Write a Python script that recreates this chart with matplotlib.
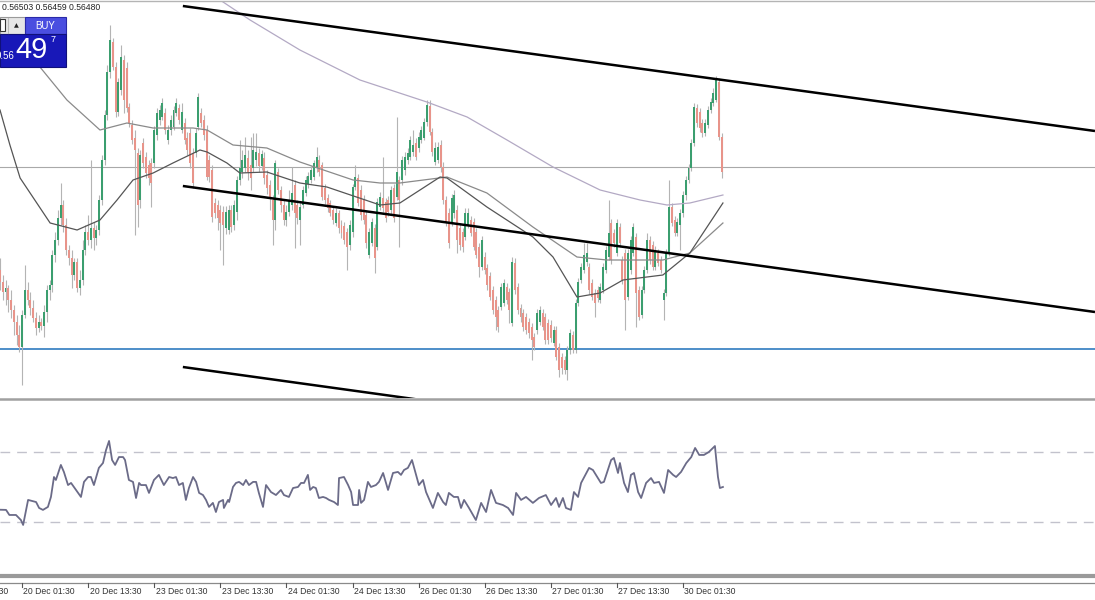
import numpy as np
import matplotlib
matplotlib.use("Agg")
import matplotlib.pyplot as plt
from matplotlib.patches import Rectangle
from matplotlib.lines import Line2D
from matplotlib.transforms import blended_transform_factory

plt.rcParams['font.family'] = ['Liberation Sans', 'DejaVu Sans']

W, H = 1095, 600
BAR_PX = 2.754          # pixel width of one M30 bar
PT = 1e-5               # price point

# ---- OHLC in price points (0.56276 -> 56276) ----
opens = [56300,56276,56256,56264,56240,56220,56196,56170,56146,56210,
         56260,56240,56224,56204,56184,56196,56188,56216,56260,56270,
         56330,56360,56404,56430,56390,56340,56324,56290,56316,56264,
         56280,56340,56376,56360,56384,56364,56380,56440,56520,56610,
         56696,56756,56706,56616,56660,56720,56704,56626,56590,56564,
         56534,56440,56554,56526,56510,56514,56514,56570,56600,56606,
         56614,56560,56580,56586,56614,56624,56580,56594,56564,56574,
         56534,56534,56586,56614,56600,56580,56520,56500,56434,56430,
         56420,56416,56384,56380,56420,56390,56416,56480,56496,56504,
         56524,56510,56504,56520,56534,56508,56524,56490,56470,56440,
         56400,56496,56460,56430,56400,56416,56430,56470,56430,56400,
         56430,56454,56472,56480,56486,56504,56520,56510,56464,56444,
         56434,56420,56394,56414,56390,56388,56376,56350,56376,56466,
         56484,56460,56440,56410,56330,56354,56384,56346,56426,56444,
         56436,56440,56420,56464,56446,56480,56480,56500,56520,56526,
         56536,56554,56544,56560,56564,56596,56628,56576,56516,56520,
         56550,56506,56440,56414,56396,56414,56420,56384,56376,56366,
         56390,56400,56396,56376,56346,56306,56326,56304,56288,56260,
         56240,56220,56226,56234,56266,56256,56194,56314,56266,56224,
         56214,56206,56196,56186,56166,56180,56196,56214,56206,56194,
         56190,56154,56180,56146,56126,56120,56100,56140,56170,56140,
         56234,56280,56300,56316,56306,56274,56254,56260,56240,56260,
         56300,56326,56394,56374,56334,56386,56320,56334,56246,56300,
         56334,56366,56260,56210,56260,56300,56360,56350,56306,56334,
         56320,56240,56254,56334,56426,56400,56374,56390,56414,56450,
         56480,56504,56554,56624,56616,56594,56574,56590,56620,56634,
         56640,56676,56566]
highs = [56324,56290,56280,56270,56260,56230,56210,56190,56220,56310,
         56276,56256,56240,56216,56210,56204,56230,56270,56280,56340,
         56376,56420,56474,56440,56404,56350,56340,56324,56324,56300,
         56360,56390,56410,56520,56396,56390,56450,56530,56620,56710,
         56790,56764,56716,56684,56750,56730,56716,56634,56600,56580,
         56544,56540,56564,56536,56520,56524,56588,56624,56630,56644,
         56624,56590,56610,56628,56644,56632,56634,56604,56576,56584,
         56544,56584,56654,56624,56610,56590,56530,56510,56444,56440,
         56430,56428,56428,56430,56430,56440,56488,56560,56540,56566,
         56540,56566,56574,56574,56544,56540,56536,56500,56480,56450,
         56520,56504,56468,56440,56430,56460,56506,56480,56440,56436,
         56468,56488,56496,56508,56520,56546,56530,56516,56472,56452,
         56440,56428,56424,56420,56400,56396,56384,56400,56472,56510,
         56492,56470,56450,56420,56384,56404,56392,56444,56456,56526,
         56444,56448,56468,56472,56606,56488,56528,56536,56544,56568,
         56580,56564,56576,56588,56604,56640,56640,56584,56556,56556,
         56560,56516,56448,56424,56452,56460,56430,56392,56384,56424,
         56424,56408,56404,56384,56354,56368,56336,56312,56296,56268,
         56248,56228,56274,56282,56274,56264,56326,56324,56274,56232,
         56222,56214,56204,56194,56174,56222,56228,56222,56214,56202,
         56200,56188,56188,56154,56134,56128,56148,56182,56178,56242,
         56284,56314,56354,56354,56314,56282,56262,56268,56274,56314,
         56348,56440,56402,56382,56402,56394,56328,56342,56342,56368,
         56394,56374,56268,56268,56308,56374,56368,56358,56348,56342,
         56328,56262,56342,56480,56434,56408,56404,56422,56458,56488,
         56512,56562,56634,56632,56624,56602,56602,56628,56644,56664,
         56688,56684,56574]
lows = [56260,56240,56230,56216,56204,56170,56150,56136,56070,56204,
        56230,56210,56196,56170,56176,56180,56166,56196,56240,56256,
        56316,56350,56390,56376,56330,56310,56264,56280,56256,56250,
        56270,56330,56350,56344,56340,56350,56370,56430,56510,56600,
        56684,56700,56606,56608,56650,56614,56616,56586,56552,56370,
        56386,56424,56504,56484,56470,56426,56504,56560,56590,56600,
        56572,56552,56570,56580,56608,56592,56574,56552,56530,56504,
        56464,56526,56580,56586,56560,56480,56476,56396,56404,56380,
        56340,56310,56372,56372,56376,56380,56400,56470,56484,56496,
        56480,56460,56496,56508,56496,56500,56472,56452,56420,56350,
        56380,56452,56416,56390,56388,56408,56420,56344,56392,56350,
        56424,56448,56464,56474,56480,56496,56488,56440,56432,56416,
        56408,56392,56388,56374,56364,56352,56300,56340,56366,56460,
        56428,56400,56392,56344,56324,56348,56294,56340,56420,56416,
        56396,56408,56412,56396,56440,56346,56470,56490,56512,56520,
        56528,56520,56536,56554,56560,56588,56570,56528,56510,56514,
        56496,56432,56388,56344,56388,56404,56334,56340,56336,56360,
        56384,56368,56340,56324,56286,56300,56292,56260,56240,56212,
        56180,56176,56220,56228,56232,56194,56188,56252,56212,56196,
        56178,56172,56164,56120,56140,56172,56190,56180,56152,56152,
        56156,56148,56120,56086,56092,56092,56080,56132,56134,56134,
        56228,56274,56294,56308,56252,56240,56206,56236,56234,56254,
        56294,56320,56312,56346,56328,56346,56272,56180,56240,56292,
        56328,56186,56200,56204,56254,56294,56312,56300,56300,56308,
        56294,56200,56248,56328,56388,56368,56368,56340,56406,56440,
        56474,56498,56548,56586,56576,56566,56568,56584,56614,56628,
        56636,56560,56484]
closes = [56276,56256,56264,56240,56220,56196,56170,56146,56210,56260,
          56240,56224,56204,56184,56196,56188,56216,56260,56270,56330,
          56360,56404,56430,56390,56340,56324,56290,56316,56264,56280,
          56340,56376,56360,56384,56364,56380,56440,56520,56610,56696,
          56760,56706,56616,56676,56726,56640,56624,56594,56560,56540,
          56430,56530,56514,56494,56484,56474,56580,56614,56620,56634,
          56580,56580,56600,56620,56634,56600,56616,56560,56540,56514,
          56474,56574,56646,56594,56570,56486,56486,56406,56414,56404,
          56394,56390,56416,56420,56386,56430,56480,56504,56520,56530,
          56496,56484,56540,56536,56508,56532,56484,56464,56444,56400,
          56514,56460,56430,56400,56416,56440,56454,56414,56404,56426,
          56460,56480,56488,56500,56514,56526,56496,56446,56440,56424,
          56414,56400,56414,56384,56374,56360,56346,56390,56466,56486,
          56434,56410,56400,56354,56376,56396,56324,56436,56446,56424,
          56404,56416,56460,56404,56496,56440,56520,56526,56534,56560,
          56550,56526,56566,56580,56596,56630,56576,56536,56544,56546,
          56506,56440,56396,56354,56444,56450,56360,56350,56346,56414,
          56414,56374,56346,56330,56306,56360,56300,56270,56246,56220,
          56206,56186,56266,56274,56240,56220,56316,56260,56220,56206,
          56186,56180,56174,56160,56146,56214,56220,56186,56160,56160,
          56164,56180,56126,56100,56104,56100,56140,56174,56140,56234,
          56276,56306,56330,56334,56260,56246,56234,56244,56266,56306,
          56340,56374,56320,56354,56394,56354,56280,56240,56334,56360,
          56386,56254,56206,56260,56300,56360,56320,56306,56340,56314,
          56300,56254,56334,56426,56394,56374,56396,56414,56450,56480,
          56504,56554,56626,56594,56584,56574,56594,56620,56636,56654,
          56680,56566,56496]

# ---- moving averages (bar position, price points) ----
ma_slow_bar = [76.3, 79.9, 90.8, 108.9, 130.7, 155.0, 169.6, 184.1, 200.8, 217.9, 232.4, 242.2, 250.5, 262.5]
ma_slow_val = [56852, 56840, 56800, 56740, 56680, 56636, 56606, 56560, 56506, 56460, 56440, 56430, 56434, 56450]
ma_mid_bar = [0, 14.5, 24.3, 36.3, 46.1, 55.6, 70.1, 75.2, 84.6, 96.9, 108.9, 128.2, 138.0, 145.2,
              162.3, 176.8, 193.5, 209.5, 220.4, 240.7, 250.5, 262.5]
ma_mid_val = [56800, 56706, 56640, 56580, 56594, 56584, 56584, 56580, 56550, 56544, 56516, 56480, 56474, 56474,
              56486, 56454, 56386, 56326, 56320, 56320, 56334, 56394]
ma_fast_bar = [0, 3.6, 7.3, 18.2, 28.0, 36.3, 42.5, 48.3, 55.6, 62.8, 72.6, 75.2, 82.4, 87.1, 96.9, 108.9,
               118.7, 138.0, 145.2, 152.5, 159.8, 162.3, 176.8, 193.5, 200.8, 209.5, 217.9, 226.2, 240.7,
               250.5, 262.5]
ma_fast_val = [56620, 56550, 56484, 56394, 56380, 56400, 56440, 56480, 56494, 56514, 56540, 56536, 56514, 56494,
               56496, 56474, 56466, 56430, 56434, 56460, 56486, 56484, 56426, 56366, 56326, 56246, 56254, 56280,
               56290, 56334, 56434]

# ---- drawn objects (bar position, price points) ----
channel_lines = [((66.4, 56828), (397.6, 56578)),
                 ((66.4, 56468), (397.6, 56216)),
                 ((66.4, 56106), (163.4, 56032))]
grey_level = 56506
blue_level = 56142

# ---- RSI(14) ----
rsi_bar = [0, 2.2, 3.4, 5.8, 7.6, 8.4, 10.2, 13.1, 14.2, 15.6, 17.4, 18.5, 19.6, 20.3, 22.1, 23.2, 24.7, 25.8,
           27.6, 29.4, 30.5, 32.0, 33.0, 34.1, 35.9, 37.4, 38.5, 39.6, 40.7, 41.8, 43.2, 44.7, 45.4, 46.8,
           48.3, 49.4, 50.5, 51.2, 53.0, 54.1, 55.9, 57.7, 59.5, 61.4, 62.8, 63.9, 65.0, 66.4, 67.5, 68.6,
           70.1, 71.2, 72.3, 73.7, 74.8, 75.9, 77.3, 78.4, 79.5, 81.0, 81.3, 82.8, 83.2, 84.6, 85.7, 86.8,
           88.3, 89.3, 90.4, 91.9, 93.0, 94.0, 95.5, 96.6, 98.4, 100.2, 102.0, 103.1, 104.9, 106.4, 108.2,
           109.3, 110.4, 111.8, 112.6, 113.7, 114.7, 115.8, 117.3, 118.4, 119.5, 121.3, 122.7, 123.1, 124.9,
           126.4, 127.5, 128.2, 130.0, 130.4, 131.1, 132.2, 133.6, 134.7, 136.5, 137.6, 139.1, 140.9, 142.7,
           144.5, 145.6, 146.7, 148.1, 149.6, 151.1, 152.1, 153.6, 154.7, 157.2, 159.0, 160.9, 161.9, 163.0,
           164.8, 166.3, 167.4, 168.5, 170.3, 172.8, 174.7, 176.5, 178.3, 180.1, 182.6, 184.5, 186.3, 187.4,
           189.2, 191.0, 193.5, 195.7, 198.2, 200.1, 201.9, 203.0, 204.4, 205.5, 207.3, 208.4, 209.9, 211.0,
           213.9, 215.3, 218.2, 219.3, 221.9, 222.9, 224.4, 225.1, 226.6, 228.0, 229.1, 230.2, 231.7, 232.8,
           234.6, 236.4, 237.5, 239.3, 241.1, 242.6, 244.4, 245.5, 247.3, 249.2, 251.0, 252.4, 253.9, 255.6,
           257.4, 259.6, 260.7, 261.4, 262.5]
rsi_val = [37.0, 36.9, 34.0, 34.0, 31.1, 28.3, 42.6, 41.4, 38.0, 36.9, 38.6, 44.3, 55.7, 54.0, 62.6, 58.6, 51.1,
           52.3, 48.3, 44.3, 52.9, 55.7, 55.7, 51.1, 60.9, 63.7, 71.1, 76.3, 65.4, 62.6, 67.1, 67.1, 65.4, 54.0,
           52.9, 43.7, 52.3, 51.1, 51.1, 46.6, 54.0, 56.9, 51.1, 55.7, 55.1, 55.7, 51.1, 52.3, 42.6, 49.4, 55.7,
           52.9, 46.6, 45.4, 42.6, 38.6, 40.9, 35.7, 41.4, 42.6, 38.0, 42.6, 41.4, 50.0, 52.3, 52.9, 51.1, 54.0,
           51.1, 52.9, 52.9, 46.6, 38.6, 51.1, 47.1, 45.4, 48.3, 45.4, 44.3, 49.4, 50.0, 52.3, 52.3, 56.9, 48.3,
           50.0, 49.4, 43.7, 44.3, 43.7, 42.6, 41.4, 39.7, 55.1, 55.7, 51.1, 47.1, 39.7, 39.7, 48.3, 40.9, 42.6,
           52.9, 50.0, 51.1, 52.9, 58.0, 48.3, 58.0, 58.6, 56.9, 59.7, 60.9, 65.4, 56.9, 51.1, 54.0, 47.1, 38.0,
           46.6, 41.4, 39.7, 46.6, 44.3, 44.3, 38.0, 42.6, 38.0, 31.1, 40.9, 35.7, 48.3, 40.9, 39.7, 38.0, 34.0,
           46.6, 42.6, 44.3, 40.9, 43.7, 45.4, 39.7, 43.7, 38.6, 43.7, 38.0, 36.9, 47.1, 44.3, 52.3, 60.9, 59.7,
           52.3, 52.9, 65.4, 66.6, 58.0, 63.7, 52.3, 47.1, 56.9, 58.0, 47.1, 43.7, 52.3, 55.1, 52.3, 52.9, 46.6,
           59.7, 56.9, 55.7, 58.6, 63.7, 67.1, 72.3, 68.3, 68.3, 70.0, 73.4, 55.7, 49.4, 50.0]
rsi_levels = [70, 30]

tick_bars = [-16, 8, 32, 56, 80, 104, 128, 152, 176, 200, 224, 248]
tick_labels = ["19 Dec 13:30", "20 Dec 01:30", "20 Dec 13:30", "23 Dec 01:30", "23 Dec 13:30",
               "24 Dec 01:30", "24 Dec 13:30", "26 Dec 01:30", "26 Dec 13:30", "27 Dec 01:30",
               "27 Dec 13:30", "30 Dec 01:30"]
header = "0.56503 0.56459 0.56480"


def fx(x):
    return x / W


def fy(y):
    return 1 - y / H


o = np.array(opens) * PT
h = np.array(highs) * PT
l = np.array(lows) * PT
c = np.array(closes) * PT
idx = np.arange(len(o))
up = c >= o

fig = plt.figure(figsize=(W / 100, H / 100), dpi=100)
fig.patch.set_facecolor("white")

xmax = W / BAR_PX
ax = fig.add_axes([0, fy(398), 1, (398 - 2) / H])
ax.set_xlim(0, xmax)
ax.set_ylim((56840 - 2 * 398) * PT, (56840 - 2 * 2) * PT)
ax.axis("off")

ax.axhline(grey_level * PT, color="#a9a9a9", lw=0.8, zorder=1)
ax.axhline(blue_level * PT, color="#2f7cc0", lw=1.2, zorder=1)

ax.vlines(idx, l, h, color="#b4b4b4", lw=0.8, zorder=2)
body_lo = np.minimum(o, c)
body_h = np.maximum(np.abs(c - o), 1.5 * PT)
ax.bar(idx, body_h, bottom=body_lo, width=0.72,
       color=np.where(up, "#3b9e6f", "#e8948a"), linewidth=0, zorder=3)

ax.plot(ma_slow_bar, np.array(ma_slow_val) * PT, color="#b3a9c4", lw=0.9, zorder=4)
ax.plot(ma_mid_bar, np.array(ma_mid_val) * PT, color="#8a8a8a", lw=0.9, zorder=4)
ax.plot(ma_fast_bar, np.array(ma_fast_val) * PT, color="#555555", lw=0.9, zorder=4)

for (b0, p0), (b1, p1) in channel_lines:
    ax.plot([b0, b1], [p0 * PT, p1 * PT], color="black", lw=1.8, zorder=5,
            solid_capstyle="butt")

# RSI pane
axr = fig.add_axes([0, fy(575), 1, 175 / H])
axr.set_xlim(0, xmax)
axr.set_ylim(-0.3, 99.7)
axr.axis("off")
for lv in rsi_levels:
    axr.axhline(lv, color="#c2c2cc", lw=1.0, dashes=(7, 5), zorder=1)
axr.plot(rsi_bar, rsi_val, color="#6b6b88", lw=1.3, zorder=3)

# pane borders
for y, col, lw in [(1.0, "#b4b4b4", 1.0), (398.5, "#a0a0a0", 1.8),
                   (575.5, "#9a9a9a", 3.0), (583.0, "#8a8a8a", 0.9)]:
    fig.add_artist(Line2D([0, 1], [fy(y), fy(y)], color=col, lw=lw))

# time axis
bt = blended_transform_factory(axr.transData, fig.transFigure)
for b, lab in zip(tick_bars, tick_labels):
    fig.add_artist(Line2D([b, b], [fy(583), fy(587)], color="#555555", lw=0.8,
                          transform=bt))
    fig.text(0, 0, lab, transform=bt, fontsize=6.2, color="#333333", ha="left",
             va="center").set_position((b + 0.5, fy(592)))

# header quote
fig.text(fx(2), fy(8), header, fontsize=6.2, color="#222222", ha="left", va="center")

# one-click trading panel
fig.add_artist(Rectangle((fx(0), fy(34)), fx(25), 17 / H, transform=fig.transFigure,
                         facecolor="#e6e6e6", edgecolor="#9a9a9a", lw=0.8))
fig.add_artist(Rectangle((fx(0), fy(31)), fx(5), 12 / H, transform=fig.transFigure,
                         facecolor="white", edgecolor="#333333", lw=0.8))
fig.add_artist(Line2D([fx(8), fx(8)], [fy(18), fy(33)], color="#bbbbbb", lw=0.8))
fig.text(fx(16.5), fy(25.5), "\u25b2", fontsize=4.5, color="#222222", ha="center",
         va="center", family=["DejaVu Sans"])
fig.add_artist(Rectangle((fx(25), fy(34)), fx(41), 17 / H, transform=fig.transFigure,
                         facecolor="#4a4ee0", edgecolor="#2a2aa8", lw=0.8))
fig.text(fx(45.5), fy(26), "BUY", fontsize=7, color="white", ha="center", va="center")
fig.add_artist(Rectangle((fx(0), fy(67)), fx(66), 33 / H, transform=fig.transFigure,
                         facecolor="#1818b8", edgecolor="#10107a", lw=0.8))
fig.text(fx(15), fy(56), "0.56", fontsize=7, color="white", ha="right", va="center")
fig.text(fx(31.5), fy(50.5), "49", fontsize=21, color="white", ha="center", va="center")
fig.text(fx(53), fy(40), "7", fontsize=6.5, color="white", ha="center", va="center")

fig.savefig("out.png", dpi=100, facecolor="white")
